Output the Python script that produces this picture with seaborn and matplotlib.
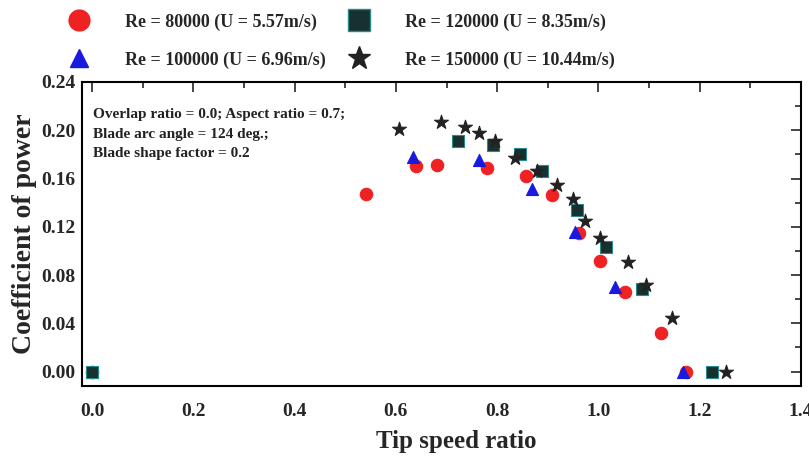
import matplotlib
matplotlib.use("Agg")
import matplotlib.pyplot as plt
import seaborn as sns
import pandas as pd
from matplotlib.ticker import MultipleLocator, FormatStrFormatter
from matplotlib.lines import Line2D

# Data
tsr_80k = [0.0, 0.541, 0.639, 0.681, 0.779, 0.856, 0.909, 0.961, 1.004, 1.053, 1.124, 1.173]
cp_80k = [0.0, 0.147, 0.170, 0.171, 0.169, 0.162, 0.146, 0.115, 0.092, 0.066, 0.032, 0.0]

tsr_100k = [0.0, 0.634, 0.764, 0.868, 0.953, 1.033, 1.167]
cp_100k = [0.0, 0.178, 0.175, 0.151, 0.116, 0.070, 0.0]

tsr_120k = [0.0, 0.722, 0.791, 0.846, 0.888, 0.957, 1.014, 1.085, 1.225]
cp_120k = [0.0, 0.191, 0.188, 0.180, 0.166, 0.134, 0.103, 0.068, 0.0]

tsr_150k = [0.606, 0.689, 0.736, 0.764, 0.795, 0.836, 0.878, 0.919, 0.949, 0.974,
            1.004, 1.059, 1.093, 1.146, 1.252]
cp_150k = [0.201, 0.207, 0.203, 0.198, 0.191, 0.177, 0.166, 0.155, 0.143, 0.125,
           0.111, 0.091, 0.072, 0.044, 0.0]

labels = ["Re = 80000 (U = 5.57m/s)", "Re = 100000 (U = 6.96m/s)",
          "Re = 120000 (U = 8.35m/s)", "Re = 150000 (U = 10.44m/s)"]

frames = []
for lab, xs, ys in zip(labels, [tsr_80k, tsr_100k, tsr_120k, tsr_150k],
                       [cp_80k, cp_100k, cp_120k, cp_150k]):
    frames.append(pd.DataFrame({"tsr": xs, "cp": ys, "series": lab}))
df = pd.concat(frames, ignore_index=True)

sns.set_style("white")
plt.rcParams["font.family"] = ["Liberation Serif", "DejaVu Serif"]
plt.rcParams["font.weight"] = "bold"

palette = {labels[0]: "#ee2222", labels[1]: "#1a1adf", labels[2]: "#173030", labels[3]: "#222222"}
markers = {labels[0]: "o", labels[1]: "^", labels[2]: "s", labels[3]: "*"}
sizes_map = {labels[0]: 80, labels[1]: 75, labels[2]: 85, labels[3]: 110}
edges = {labels[0]: "#ee2222", labels[1]: "#1a1adf", labels[2]: "#2a8a8a", labels[3]: "#222222"}

fig = plt.figure(figsize=(8.09, 4.59), dpi=100)
ax = fig.add_axes([82 / 809, 1 - 386 / 459, (801 - 82) / 809, (386 - 82) / 459])

for lab in labels:
    sub = df[df["series"] == lab]
    sns.scatterplot(data=sub, x="tsr", y="cp", ax=ax, color=palette[lab],
                    marker=markers[lab], s=sizes_map[lab], edgecolor=edges[lab],
                    linewidth=0.8, legend=False, zorder=3)

ax.set_xlim(-0.02, 1.4)
ax.set_ylim(-0.012, 0.24)
ax.xaxis.set_major_locator(MultipleLocator(0.2))
ax.xaxis.set_minor_locator(MultipleLocator(0.1))
ax.yaxis.set_major_locator(MultipleLocator(0.04))
ax.yaxis.set_minor_locator(MultipleLocator(0.02))
ax.xaxis.set_major_formatter(FormatStrFormatter("%.1f"))
ax.yaxis.set_major_formatter(FormatStrFormatter("%.2f"))
ax.tick_params(which="both", direction="in", top=True, right=True, width=1.2)
ax.tick_params(which="major", length=7, labelsize=14)
ax.tick_params(axis="x", which="major", pad=12)
ax.tick_params(axis="y", which="major", pad=5)
ax.tick_params(which="minor", length=4)
for lbl in ax.get_xticklabels() + ax.get_yticklabels():
    lbl.set_fontweight("bold")
for sp in ax.spines.values():
    sp.set_linewidth(1.5)
    sp.set_color("black")

ax.set_xlabel("Tip speed ratio", fontsize=18, fontweight="bold")
ax.xaxis.set_label_coords((456 - 82) / 719, -0.145)
ax.set_ylabel("Coefficient of power", fontsize=20, fontweight="bold", labelpad=3)

ax.text(0.015, 0.915, "Overlap ratio = 0.0; Aspect ratio = 0.7;\nBlade arc angle = 124 deg.;\nBlade shape factor = 0.2",
        transform=ax.transAxes, ha="left", va="top", fontsize=11, fontweight="bold",
        linespacing=1.68, color="#222222")

handles = [Line2D([], [], linestyle="none", marker=markers[l], markersize=ms,
                  markerfacecolor=palette[l], markeredgecolor=edges[l]) for l, ms in
           zip(labels, [15, 13, 16, 17])]
fig.legend(handles, labels,
           ncol=2, loc="upper left", bbox_to_anchor=(54 / 809, 1.0 - 6 / 459), frameon=False,
           prop={"weight": "bold", "size": 13}, handletextpad=1.55, columnspacing=0.8,
           labelspacing=1.15, borderaxespad=0.0)

fig.savefig("out.png", dpi=100)
